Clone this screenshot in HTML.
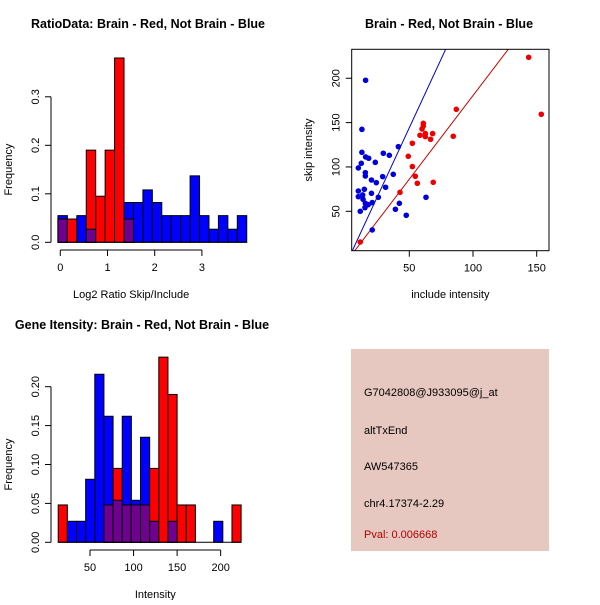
<!DOCTYPE html>
<html><head><meta charset="utf-8"><style>
html,body{margin:0;padding:0;background:#fff}
svg text{font-family:"Liberation Sans",sans-serif;fill:#000}
</style></head><body>
<svg id="svg" width="600" height="600" viewBox="0 0 600 600" xmlns="http://www.w3.org/2000/svg">
<rect width="600" height="600" fill="#fff"/>
<text x="148" y="28" text-anchor="middle" font-size="12.5" font-weight="bold">RatioData: Brain - Red, Not Brain - Blue</text>
<text x="449" y="28" text-anchor="middle" font-size="12.5" font-weight="bold">Brain - Red, Not Brain - Blue</text>
<text x="142" y="329" text-anchor="middle" font-size="12.5" font-weight="bold">Gene Itensity: Brain - Red, Not Brain - Blue</text>
<g id="p1"></g>
<g id="p2"></g>
<g id="p3"></g>
<g>
<rect x="351" y="349" width="198" height="202" fill="#e6c8c0"/>
<text x="364" y="396" font-size="11">G7042808@J933095@j_at</text>
<text x="364" y="434" font-size="11">altTxEnd</text>
<text x="364" y="470" font-size="11">AW547365</text>
<text x="364" y="507" font-size="11">chr4.17374-2.29</text>
<text x="364" y="538" font-size="11" fill="#b00000" style="fill:#b00000">Pval: 0.006668</text>
</g>
</svg>
<script>
// Ratio histogram data
const ratioBinStart = -0.05, ratioBinWidth = 0.2;
const ratioBlue = [0.055,0,0.055,0.027,0,0,0,0.082,0.082,0.108,0.082,0.055,0.055,0.055,0.137,0.055,0.027,0.055,0.027,0.055];
const ratioRed  = [0.048,0.048,0,0.19,0.095,0.19,0.38,0.048,0,0,0,0,0,0,0,0,0,0,0,0];
const ratioXTicks = [0,1,2,3];
const ratioYTicks = [0.0,0.1,0.2,0.3];
// Intensity histogram data
const intBinStart = 13.5, intBinWidth = 10.5;
const intBlue = [0,0.027,0.027,0.081,0.216,0.162,0.054,0.162,0.054,0.135,0.027,0,0.027,0,0,0,0,0.027,0,0];
const intRed  = [0.048,0,0,0,0,0.048,0.095,0.048,0.048,0.048,0.095,0.238,0.19,0.048,0.048,0,0,0,0,0.048];
const intXTicks = [50,100,150,200];
const intYTicks = [0.00,0.05,0.10,0.15,0.20];
// Scatter data
const blueX = [15.7,12.8,12.8,10,12.3,15.7,18.1,15.5,15.5,23.3,20.3,24.1,29.6,34.3,41.4,29.1,31.4,37.4,20.3,14.7,10,10,13.4,13.7,15.5,17.8,20.9,25.7,15.2,11.5,20.9,42.2,39.1,47.6,63.1];
const blueY = [197.7,142.4,116.5,98.9,104.1,111.3,109.8,93.6,89.8,105.2,85.3,82.3,115.4,113.1,122.9,89.1,77.1,91.7,70.3,74.8,72.9,66.5,68.4,63.5,59,57.5,59.8,65.8,54.1,50,29,59,52.3,45.5,65.8];
const redX = [11.5,42.7,49.2,52.4,52.4,54.7,56.3,68.8,58.4,60,61,61,62.6,62.6,66.7,68.3,84.5,86.9,143.7,153.6];
const redY = [15.4,71.4,112,126.7,100.4,89.5,81.6,82.7,135.7,142.8,146.2,149.2,137.6,134.2,131.2,137.6,134.6,165,223.6,159.4];
const blueLine = [-10.8, 3.1]; // intercept, slope
const redLine = [-8, 1.885];
const scXTicks = [50,100,150];
const scYTicks = [50,100,150,200];

const NS='http://www.w3.org/2000/svg';
function mk(parent,tag,attrs,txt){const e=document.createElementNS(NS,tag);for(const k in attrs)e.setAttribute(k,attrs[k]);if(txt!==undefined)e.textContent=txt;parent.appendChild(e);return e;}

function hist(gid,bs,bw,blue,red,xt,yt,xs,ys,xAxisY,yAxisX,xlab,ylab,fmt,xlabY){
  const g=document.getElementById(gid);
  for(let i=0;i<blue.length;i++){
    const x0=xs(bs+i*bw), x1=xs(bs+(i+1)*bw);
    const b=blue[i], r=red[i];
    if(b>0){const e=mk(g,'rect',{x:x0,y:ys(b),width:x1-x0,height:ys(0)-ys(b),fill:'#0000ff',stroke:'#000','stroke-width':1});
      
      }
    if(r>0){const e=mk(g,'rect',{x:x0,y:ys(r),width:x1-x0,height:ys(0)-ys(r),fill:'#ff0000',stroke:'#000','stroke-width':1});
      
      }
    if(b>0&&r>0){const m=Math.min(b,r);const e=mk(g,'rect',{x:x0,y:ys(m),width:x1-x0,height:ys(0)-ys(m),fill:'#700090',stroke:'#000','stroke-width':1});
      
      }
  }
  mk(g,'line',{x1:xs(bs),x2:xs(bs+blue.length*bw),y1:ys(0),y2:ys(0),stroke:'#000'});
  mk(g,'line',{x1:xs(xt[0]),x2:xs(xt[xt.length-1]),y1:xAxisY,y2:xAxisY,stroke:'#000'});
  xt.forEach(t=>{mk(g,'line',{x1:xs(t),x2:xs(t),y1:xAxisY,y2:xAxisY+6,stroke:'#000'});
    const e=mk(g,'text',{x:xs(t),y:xAxisY+21,'text-anchor':'middle','font-size':11},String(t));
    
    });
  mk(g,'line',{x1:yAxisX,x2:yAxisX,y1:ys(yt[0]),y2:ys(yt[yt.length-1]),stroke:'#000'});
  yt.forEach(t=>{mk(g,'line',{x1:yAxisX,x2:yAxisX-6,y1:ys(t),y2:ys(t),stroke:'#000'});
    const e=mk(g,'text',{x:yAxisX-12,y:ys(t),'text-anchor':'middle','font-size':11,transform:`rotate(-90 ${yAxisX-12} ${ys(t)})`},fmt(t));
    
    });
  const xl=mk(g,'text',{x:(xs(xt[0])+xs(xt[xt.length-1]))/2,y:xlabY,'text-anchor':'middle','font-size':11},xlab);
  
  
  const cy=(ys(yt[0])+ys(yt[yt.length-1]))/2;
  const yl=mk(g,'text',{x:12,y:cy,'text-anchor':'middle','font-size':11,transform:`rotate(-90 12 ${cy})`},ylab);
  
  
}
hist('p1',ratioBinStart,ratioBinWidth,ratioBlue,ratioRed,ratioXTicks,ratioYTicks,
  v=>60.3+v*47.2, v=>242.3-v*485, 250, 51,'Log2 Ratio Skip/Include','Frequency',t=>t.toFixed(1),298);
cy0=(0);
hist('p3',intBinStart,intBinWidth,intBlue,intRed,intXTicks,intYTicks,
  v=>90+(v-50)*0.871, v=>542.3-v*778, 550, 51,'Intensity','Frequency',t=>t.toFixed(2),598);

// scatter
(function(){
  const g=document.getElementById('p2');
  const xs=v=>409.3+(v-50)*1.274, ys=v=>211.3-(v-50)*0.887;
  const L=351.7,R=549,T=49.3,B=250.7;
  const cp=mk(g,'clipPath',{id:'clip'});mk(cp,'rect',{x:L,y:T,width:R-L,height:B-T});
  [[blueLine,'#0000cc','blue-fit-line'],[redLine,'#cc0000','red-fit-line']].forEach(([ln,c,n])=>{
    const xa=0,xb=200;
    const e=mk(g,'line',{x1:xs(xa),y1:ys(ln[0]+ln[1]*xa),x2:xs(xb),y2:ys(ln[0]+ln[1]*xb),stroke:c,'clip-path':'url(#clip)'});
    
    
  });
  blueX.forEach((x,i)=>{const e=mk(g,'circle',{cx:xs(x),cy:ys(blueY[i]),r:2.8,fill:'#0000dd'});
    
    });
  redX.forEach((x,i)=>{const e=mk(g,'circle',{cx:xs(x),cy:ys(redY[i]),r:2.8,fill:'#ee0000'});
    
    });
  mk(g,'rect',{x:L,y:T,width:R-L,height:B-T,fill:'none',stroke:'#000'});
  scXTicks.forEach(t=>{mk(g,'line',{x1:xs(t),x2:xs(t),y1:B,y2:B+6,stroke:'#000'});
    const e=mk(g,'text',{x:xs(t),y:B+21,'text-anchor':'middle','font-size':11},String(t));
    
    });
  scYTicks.forEach(t=>{mk(g,'line',{x1:L,x2:L-6,y1:ys(t),y2:ys(t),stroke:'#000'});
    const e=mk(g,'text',{x:L-12,y:ys(t),'text-anchor':'middle','font-size':11,transform:`rotate(-90 ${L-12} ${ys(t)})`},String(t));
    
    });
  const xl=mk(g,'text',{x:(L+R)/2,y:298,'text-anchor':'middle','font-size':11},'include intensity');
  
  
  const cy=(T+B)/2;
  const yl=mk(g,'text',{x:312,y:cy,'text-anchor':'middle','font-size':11,transform:`rotate(-90 312 ${cy})`},'skip intensity');
  
  
})();
</script>
</body></html>
